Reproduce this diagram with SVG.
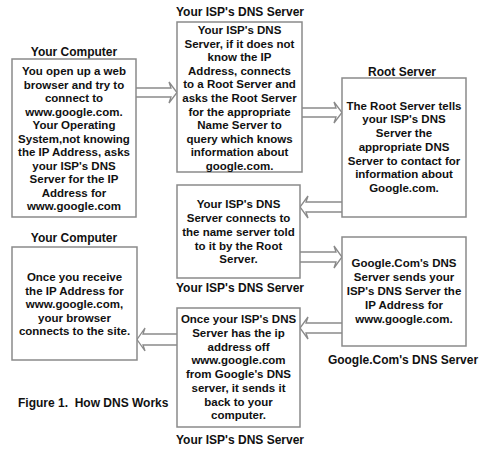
<svg xmlns="http://www.w3.org/2000/svg" width="482" height="454" viewBox="0 0 482 454">
<style>
text{font-family:"Liberation Sans",Arial,sans-serif;font-weight:bold;font-size:11.5px;fill:#111;text-anchor:middle}
.box{fill:#fff;stroke:#8a8a8a;stroke-width:1.5}
.arr{fill:#fff;stroke:#8a8a8a;stroke-width:1.3;stroke-linejoin:miter}
.lbl{font-size:12px}
</style>
<rect width="482" height="454" fill="#fff"/>
<g id="connectors">
<path class="arr" d="M136,88 H171 L169,82 L177,92.5 L169,103 L171,97 H136"/>
<path class="arr" d="M302,108 H336 L334,102 L342,112.5 L334,123 L336,117 H302"/>
<path class="arr" d="M342,202 H306 L308,196 L300,207 L308,218 L306,212 H342"/>
<path class="arr" d="M300,252 H336 L334,246 L342,257 L334,268 L336,262 H300"/>
<path class="arr" d="M342,323 H306 L308,317 L300,328 L308,339 L306,333 H342"/>
<path class="arr" d="M177,334 H143 L145,328 L137,339.5 L145,351 L143,345 H177"/>
</g>
<g id="n1">
<text class="lbl" x="74" y="56">Your Computer</text>
<rect class="box" x="12" y="59" width="124" height="158"/>
<text x="74"><tspan x="74" y="75">You open up a web</tspan><tspan x="74" y="88.5">browser and try to</tspan><tspan x="74" y="102">connect to</tspan><tspan x="74" y="115.5">www.google.com.</tspan><tspan x="74" y="129">Your Operating</tspan><tspan x="74" y="142.5">System,not knowing</tspan><tspan x="74" y="156">the IP Address, asks</tspan><tspan x="74" y="169.5">your ISP's DNS</tspan><tspan x="74" y="183">Server for the IP</tspan><tspan x="74" y="196.5">Address for</tspan><tspan x="74" y="210">www.google.com</tspan></text>
</g>
<g id="n2">
<text class="lbl" x="240" y="16">Your ISP's DNS Server</text>
<rect class="box" x="177" y="22" width="125" height="150"/>
<text><tspan x="239.5" y="34">Your ISP's DNS</tspan><tspan x="239.5" y="47.6">Server, if it does not</tspan><tspan x="239.5" y="61.2">know the IP</tspan><tspan x="239.5" y="74.8">Address, connects</tspan><tspan x="239.5" y="88.4">to a Root Server and</tspan><tspan x="239.5" y="102">asks the Root Server</tspan><tspan x="239.5" y="115.6">for the appropriate</tspan><tspan x="239.5" y="129.2">Name Server to</tspan><tspan x="239.5" y="142.8">query which knows</tspan><tspan x="239.5" y="156.4">information about</tspan><tspan x="239.5" y="170">google.com.</tspan></text>
</g>
<g id="n3">
<text class="lbl" x="402" y="76">Root Server</text>
<rect class="box" x="342" y="78" width="124" height="139"/>
<text><tspan x="404" y="109.7">The Root Server tells</tspan><tspan x="404" y="123.4">your ISP's DNS</tspan><tspan x="404" y="137.1">Server the</tspan><tspan x="404" y="150.8">appropriate DNS</tspan><tspan x="404" y="164.5">Server to contact for</tspan><tspan x="404" y="178.2">information about</tspan><tspan x="404" y="191.9">Google.com.</tspan></text>
</g>
<g id="n4">
<rect class="box" x="177" y="185" width="123" height="93"/>
<text><tspan x="238.5" y="208.3">Your ISP's DNS</tspan><tspan x="238.5" y="222">Server connects to</tspan><tspan x="238.5" y="235.8">the name server told</tspan><tspan x="238.5" y="249.5">to it by the Root</tspan><tspan x="238.5" y="263.3">Server.</tspan></text>
<text class="lbl" x="240" y="292">Your ISP's DNS Server</text>
</g>
<g id="n5">
<rect class="box" x="342" y="237" width="124" height="109"/>
<text><tspan x="404" y="267.3">Google.Com's DNS</tspan><tspan x="404" y="281.3">Server sends your</tspan><tspan x="404" y="295.3">ISP's DNS Server the</tspan><tspan x="404" y="309.3">IP Address for</tspan><tspan x="404" y="323.3">www.google.com.</tspan></text>
<text class="lbl" x="403" y="364">Google.Com's DNS Server</text>
</g>
<g id="n6">
<text class="lbl" x="74" y="242">Your Computer</text>
<rect class="box" x="12" y="247" width="125" height="113"/>
<text><tspan x="74.5" y="281.3">Once you receive</tspan><tspan x="74.5" y="294.7">the IP Address for</tspan><tspan x="74.5" y="308.1">www.google.com,</tspan><tspan x="74.5" y="321.5">your browser</tspan><tspan x="74.5" y="335">connects to the site.</tspan></text>
</g>
<g id="n7">
<rect class="box" x="177" y="308" width="123" height="119"/>
<text><tspan x="238.5" y="323.3">Once your ISP's DNS</tspan><tspan x="238.5" y="337">Server has the ip</tspan><tspan x="238.5" y="350.7">address off</tspan><tspan x="238.5" y="364.4">www.google.com</tspan><tspan x="238.5" y="378.1">from Google's DNS</tspan><tspan x="238.5" y="391.8">server, it sends it</tspan><tspan x="238.5" y="405.5">back to your</tspan><tspan x="238.5" y="419.2">computer.</tspan></text>
<text class="lbl" x="240" y="444">Your ISP's DNS Server</text>
</g>
<g id="caption">
<text class="lbl" x="18" y="407" style="text-anchor:start" xml:space="preserve">Figure 1.  How DNS Works</text>
</g>
</svg>
